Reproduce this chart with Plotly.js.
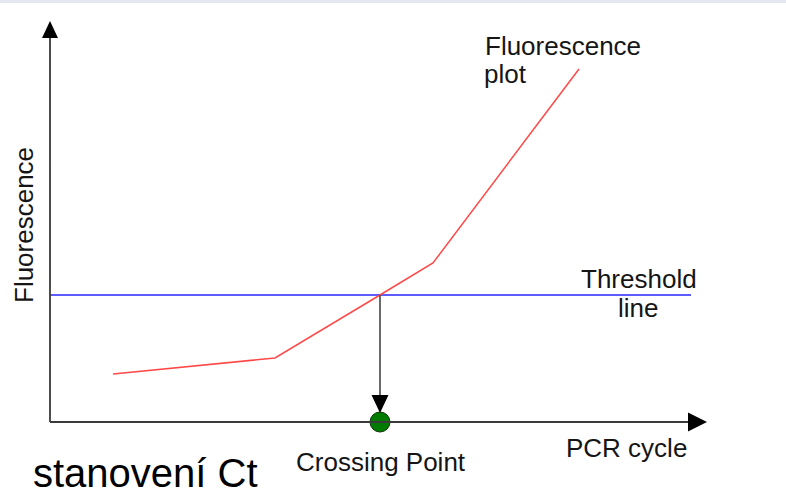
<!DOCTYPE html>
<html>
<head>
<meta charset="utf-8">
<script src="https://cdn.plot.ly/plotly-3.0.1.min.js"></script>
<style>html,body{margin:0;padding:0;background:#fff;}#chart{width:786px;height:495px;}</style>
</head>
<body>
<div id="chart"></div>
<script>
// Schematic amplification curve (arbitrary units; origin at axis corner)
const cycles = [63, 225, 330, 383, 529];
const fluorescence = [48, 64, 127, 159, 353];
const thresholdValue = 127;
const thresholdX = [0, 641];
const crossingCycle = 330;
const axisXEnd = 657;
const axisYEnd = 401;

const labels = {
  curve1: "Fluorescence", curve2: "plot",
  thr1: "Threshold", thr2: "line",
  xTitle: "PCR cycle", yTitle: "Fluorescence",
  crossing: "Crossing Point", caption: "stanovení Ct"
};

const FONT = "Liberation Sans, Arial, Helvetica, sans-serif";
const fs = 26;

const traces = [
  {x: thresholdX, y: [thresholdValue, thresholdValue], mode: "lines",
   line: {color: "#2626ff", width: 1.5}, hoverinfo: "skip"},
  {x: cycles, y: fluorescence, mode: "lines",
   line: {color: "#ff4848", width: 1.5}, hoverinfo: "skip"},
  {x: [crossingCycle, crossingCycle], y: [thresholdValue, 27], mode: "lines",
   line: {color: "#5a5a5a", width: 1.8}, hoverinfo: "skip"},
  {x: [crossingCycle], y: [0], mode: "markers",
   marker: {size: 20, color: "#007a00", line: {color: "#0a3a0a", width: 1}}, hoverinfo: "skip"}
];

function ann(text, x, y, opts) {
  return Object.assign({text: text, x: x, y: y, xref: "x", yref: "y", showarrow: false,
    font: {family: FONT, size: fs, color: "#151515"}, xanchor: "center", yanchor: "middle"}, opts || {});
}

const annotations = [
  ann(labels.curve1, 433, 376, {xanchor: "left"}),
  ann(labels.curve2, 432, 348, {xanchor: "left"}),
  ann(labels.thr1, 588.5, 143),
  ann(labels.thr2, 587.5, 114),
  ann(labels.xTitle, 576.5, -26),
  ann(labels.crossing, 331, -40),
  ann(labels.caption, 95, -51, {font: {family: FONT, size: 40, color: "#000"}}),
  ann(labels.yTitle, -26, 197, {textangle: -90})
];

const shapes = [
  {type: "rect", xref: "x", yref: "y", x0: -50, x1: 736, y0: 419, y1: 423,
   fillcolor: "#e3e8ee", line: {width: 0}, layer: "below"},
  {type: "line", xref: "x", yref: "y", x0: 0, y0: 0, x1: 0, y1: axisYEnd - 10,
   line: {color: "#3a3a3a", width: 1.8}},
  {type: "line", xref: "x", yref: "y", x0: 0, y0: 0, x1: axisXEnd - 10, y1: 0,
   line: {color: "#3a3a3a", width: 1.8}},
  {type: "path", xsizemode: "pixel", ysizemode: "pixel", xanchor: 0, yanchor: axisYEnd,
   xref: "x", yref: "y", path: "M0,0 L-8,-17 L8,-17 Z", fillcolor: "#000", line: {width: 0}},
  {type: "path", xsizemode: "pixel", ysizemode: "pixel", xanchor: axisXEnd, yanchor: 0,
   xref: "x", yref: "y", path: "M0,0 L-19,9.5 L-19,-9.5 Z", fillcolor: "#000", line: {width: 0}},
  {type: "path", xsizemode: "pixel", ysizemode: "pixel", xanchor: crossingCycle, yanchor: 9,
   xref: "x", yref: "y", path: "M0,0 L-8.5,18 L8.5,18 Z", fillcolor: "#000", line: {width: 0}}
];

const layout = {
  width: 786, height: 495,
  margin: {l: 0, r: 0, t: 0, b: 0, pad: 0},
  paper_bgcolor: "#ffffff", plot_bgcolor: "#ffffff",
  showlegend: false,
  xaxis: {range: [-50, 736], visible: false, fixedrange: true},
  yaxis: {range: [-73, 422], visible: false, fixedrange: true},
  annotations: annotations,
  shapes: shapes
};

Plotly.newPlot("chart", traces, layout, {staticPlot: true, displayModeBar: false});
</script>
</body>
</html>
